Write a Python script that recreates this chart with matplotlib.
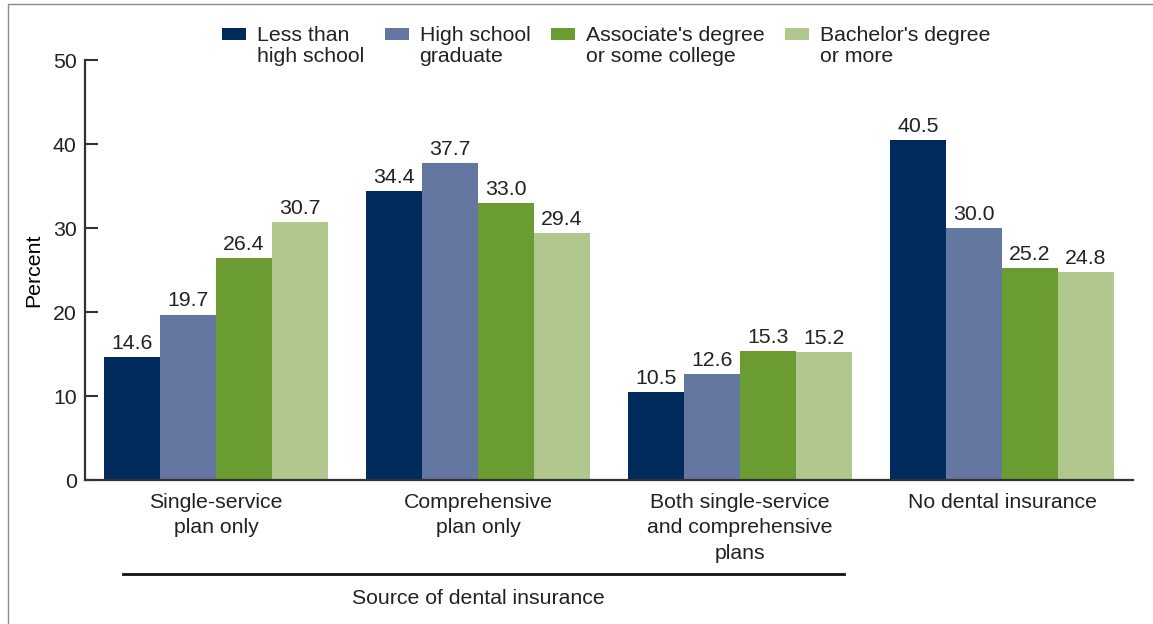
import numpy as np
import matplotlib.pyplot as plt
from matplotlib.patches import Rectangle
from matplotlib.legend_handler import HandlerPatch

plt.rcParams['font.family'] = ['Liberation Sans', 'DejaVu Sans']
plt.rcParams['text.color'] = '#222222'

categories = ['Single-service\nplan only', 'Comprehensive\nplan only',
              'Both single-service\nand comprehensive\nplans', 'No dental insurance']
series_names = ['Less than\nhigh school', 'High school\ngraduate',
                "Associate's degree\nor some college", "Bachelor's degree\nor more"]
less_than_hs = [14.6, 34.4, 10.5, 40.5]
hs_graduate = [19.7, 37.7, 12.6, 30.0]
some_college = [26.4, 33.0, 15.3, 25.2]
bachelors = [30.7, 29.4, 15.2, 24.8]
colors = ['#002B5C', '#6477A0', '#6B9C31', '#B0C78E']

series = [less_than_hs, hs_graduate, some_college, bachelors]
FS = 15.3


def top_patch(legend, orig_handle, xdescent, ydescent, width, height, fontsize):
    # small swatch lined up with the first line of a two-line label
    ph = 0.58 * fontsize
    return Rectangle((-xdescent, 0.62 * fontsize), width, ph)


fig = plt.figure(figsize=(11.53, 6.24), dpi=100)
ax = fig.add_axes([85 / 1153, 1 - 480 / 624, 1048 / 1153, 420 / 624])

x = np.arange(len(categories))
w = 0.2137
handles = []
for i, (vals, name, c) in enumerate(zip(series, series_names, colors)):
    bars = ax.bar(x + (i - 1.5) * w, vals, w, color=c, label=name)
    ax.bar_label(bars, labels=[f'{v:.1f}' for v in vals], padding=3,
                 fontsize=FS, color='#222222')
    handles.append(bars.patches[0])

ax.set_xlim(-0.5, 3.5)
ax.set_ylim(0, 50)
ax.set_yticks([0, 10, 20, 30, 40, 50])
ax.set_xticks(x)
ax.set_xticklabels(categories, fontsize=FS, linespacing=1.45)
ax.tick_params(axis='x', length=0, pad=9, colors='#222222')
ax.tick_params(axis='y', direction='in', length=9.5, width=1.5, pad=6,
               labelsize=FS, colors='#333333', labelcolor='#222222')
for s in ['top', 'right']:
    ax.spines[s].set_visible(False)
for s in ['left', 'bottom']:
    ax.spines[s].set_linewidth(1.6)
    ax.spines[s].set_color('#333333')
ax.set_ylabel('Percent', fontsize=FS, labelpad=7)

# bracket under the first three groups
tr = ax.get_xaxis_transform()
ax.plot([-0.355, 2.397], [-0.224, -0.224], color='#111111', lw=2,
        transform=tr, clip_on=False)
ax.text(1.0, -0.281, 'Source of dental insurance', transform=tr,
        ha='center', va='center', fontsize=FS)

leg = fig.legend(handles=handles, labels=series_names, loc='upper left',
                 bbox_to_anchor=(222 / 1153, 1 - 26 / 624),
                 ncol=4, frameon=False, fontsize=FS, handlelength=1.15,
                 handleheight=0.7, handletextpad=0.5, columnspacing=0.95,
                 borderpad=0, borderaxespad=0,
                 handler_map={Rectangle: HandlerPatch(patch_func=top_patch)})
for t in leg.get_texts():
    t.set_linespacing(1.1)

fig.patches.append(Rectangle((8 / 1153, -0.1), 1.2, 1.1 - 4 / 624,
                             transform=fig.transFigure, fill=False,
                             edgecolor='#8a8a8a', lw=1))

fig.savefig('out.png', dpi=100)
